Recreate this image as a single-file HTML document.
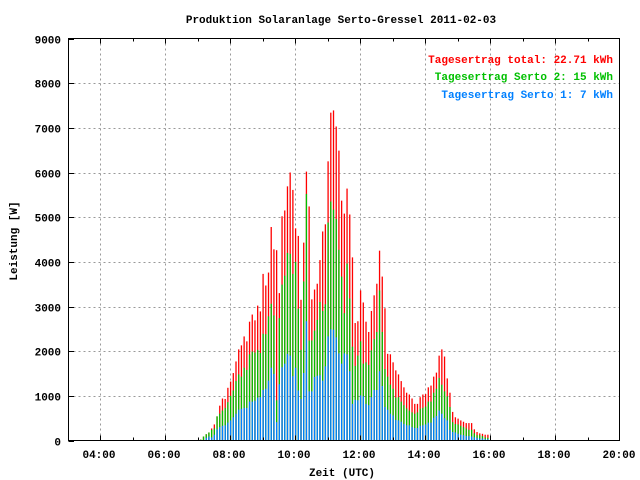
<!DOCTYPE html>
<html><head><meta charset="utf-8"><style>
html,body{margin:0;padding:0;background:#fff}
svg{display:block}
text{font-family:"Liberation Mono","DejaVu Sans Mono",monospace;font-weight:bold}
</style></head><body>
<svg id="chart" width="640" height="480" viewBox="0 0 640 480" xmlns="http://www.w3.org/2000/svg">
<text x="341" y="23" font-size="11" text-anchor="middle">Produktion Solaranlage Serto-Gressel 2011-02-03</text>
<g id="grid"></g>
<g id="bars"></g>
<rect x="68.5" y="38.5" width="551" height="402" fill="none" stroke="#000" stroke-width="1"/>
<g id="axes"></g>
<text transform="translate(17,241) rotate(-90)" font-size="11" text-anchor="middle">Leistung [W]</text>
<text x="342" y="476" font-size="11" text-anchor="middle">Zeit (UTC)</text>
<text x="613" y="63" font-size="11" text-anchor="end" fill="#ff0000">Tagesertrag total: 22.71 kWh</text>
<text x="613" y="80" font-size="11" text-anchor="end" fill="#00c000">Tagesertrag Serto 2: 15 kWh</text>
<text x="613" y="98" font-size="11" text-anchor="end" fill="#0080ff">Tagesertrag Serto 1: 7 kWh</text>
</svg>
<script>
const startMinute = 426;
const stepMinutes = 5;
const totalValues = [20,90,140,180,270,360,540,780,940,930,1180,1320,1510,1770,2040,2130,2330,2220,2660,2820,2690,3020,2890,3730,3470,3760,4780,4280,4260,3300,5020,5150,5690,6000,5610,4750,4580,
3150,4430,6020,5240,3160,3380,3510,4040,4680,4840,6250,7340,7390,7030,6490,5370,5080,5640,5060,4100,2630,2670,3360,3090,2660,2430,2900,3250,3510,4250,3670,2960,1940,1930,1750,
1570,1480,1330,1190,1070,1030,940,820,820,970,1030,1040,1190,1230,1430,1520,1900,2040,1880,1390,1070,640,520,490,450,420,390,390,390,250,190,160,150,130,130];
const serto2Values = [20,90,140,180,240,270,540,600,670,730,860,1000,1120,1330,1480,1430,1630,1580,1930,1990,1970,2030,1960,2390,2380,2780,3060,2800,900,2740,3490,3690,4200,4180,3730,4000,2950,
2030,3560,5520,2240,2240,2460,2700,3100,2900,3050,4880,5350,5170,4960,4270,3670,2850,3960,3180,2100,1670,1900,2220,1720,1750,1690,2020,2270,2430,3360,2430,1600,1430,1250,1160,
960,970,870,790,720,670,630,600,630,710,730,760,870,870,1070,1160,1400,1250,1100,990,750,410,370,360,330,300,270,240,240,160,120,120,100,70,60];
const serto1Values = [0,0,60,90,70,130,250,300,330,340,400,450,520,600,690,710,730,730,870,870,890,960,970,1130,1160,1340,1630,1490,410,1260,1640,1720,1940,1900,1440,1630,1120,
930,1510,2670,1100,1100,1420,1450,1460,1340,1660,2330,2490,2480,2310,1950,1720,1950,1930,1550,820,910,900,1010,990,820,790,970,1130,1130,1550,1220,750,690,600,560,
460,450,420,370,340,340,300,280,280,330,340,360,400,400,510,550,670,600,500,450,240,190,180,150,130,120,100,100,90,70,60,45,45,30,30];
const yTicks = [0,1000,2000,3000,4000,5000,6000,7000,8000,9000];
const xTickHours = [4,6,8,10,12,14,16,18,20];
const xTickLabels = ["04:00","06:00","08:00","10:00","12:00","14:00","16:00","18:00","20:00"];

const NS = "http://www.w3.org/2000/svg";
const x0 = 100, pxPerHour = 32.5, y0 = 440.5, pxPerUnit = 402/9000;
function xScale(minutes){ return x0 + (minutes/60 - 4) * pxPerHour; }
function yScale(v){ return y0 - v * pxPerUnit; }
function mk(tag, attrs){ const e = document.createElementNS(NS, tag); for (const k in attrs) e.setAttribute(k, attrs[k]); return e; }

const grid = document.getElementById('grid');
const axes = document.getElementById('axes');
yTicks.forEach(function(t){
  const y = Math.round(yScale(t)) + 0.5;
  if (t > 0 && t < 9000) {
    const g = mk('line', {x1:68.5, x2:619.5, y1:y, y2:y, stroke:'#999', 'stroke-dasharray':'2,3'});
    
    
    grid.appendChild(g);
  }
  const tk = mk('line', {x1:68.5, x2:74, y1:y, y2:y, stroke:'#000'});
  
  
  axes.appendChild(tk);
  const lb = mk('text', {x:61, y:y+4, 'font-size':11, 'text-anchor':'end'});
  lb.textContent = String(t);
  
  
  axes.appendChild(lb);
});
for (let h = 4; h <= 19; h++) {
  const x = Math.round(xScale(h*60)) + 0.5;
  const major = (h % 2 === 0);
  if (major) {
    const g = mk('line', {x1:x, x2:x, y1:38.5, y2:440.5, stroke:'#999', 'stroke-dasharray':'2,3'});
    
    
    grid.appendChild(g);
  }
  const len = major ? 5 : 3;
  const t1 = mk('line', {x1:x, x2:x, y1:440.5, y2:440.5-len, stroke:'#000'});
  
  
  axes.appendChild(t1);
  const t2 = mk('line', {x1:x, x2:x, y1:38.5, y2:38.5+len, stroke:'#000'});
  
  
  axes.appendChild(t2);
}
xTickHours.forEach(function(h, i){
  const lb = mk('text', {x:xScale(h*60)-1, y:458, 'font-size':11, 'text-anchor':'middle'});
  lb.textContent = xTickLabels[i];
  
  
  axes.appendChild(lb);
});

const bars = document.getElementById('bars');
function drawBar(minutes, v, color, name){
  if (v <= 0) return;
  const x = xScale(minutes);
  const y = yScale(v);
  const r = mk('rect', {x:x-0.6, y:y, width:1.3, height:y0-0.5-y, fill:color});
  
  
  bars.appendChild(r);
}
totalValues.forEach(function(v, i){
  const m = startMinute + i*stepMinutes;
  drawBar(m, v, '#ff0000', 'bar-total');
  drawBar(m, serto2Values[i], '#00c000', 'bar-serto2');
  drawBar(m, serto1Values[i], '#0080ff', 'bar-serto1');
});
</script>
</body></html>
